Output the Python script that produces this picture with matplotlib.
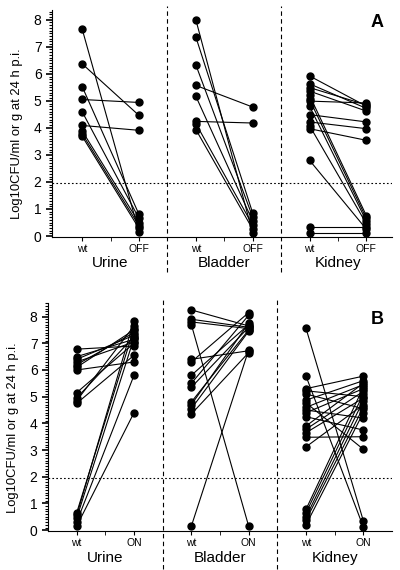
import matplotlib
matplotlib.use("Agg")
import matplotlib.pyplot as plt
from matplotlib.ticker import MultipleLocator
import matplotlib.transforms as mtransforms

plt.rcParams['font.family'] = ['Liberation Sans', 'DejaVu Sans']

grupos = ['Urine', 'Bladder', 'Kidney']

# Painel A: wt -> OFF
urina_wt_a = [7.66, 6.37, 5.53, 5.05, 4.60, 4.09, 3.89, 3.78, 3.69]
urina_off_a = [0.15, 4.46, 0.80, 4.94, 0.65, 3.91, 0.50, 0.38, 0.28]
bexiga_wt_a = [8.00, 7.36, 6.33, 5.57, 5.17, 4.24, 4.16, 3.94]
bexiga_off_a = [0.10, 0.85, 0.70, 4.77, 0.55, 4.18, 0.40, 0.25]
rim_wt_a = [5.92, 5.63, 5.49, 5.36, 4.99, 4.49, 4.22, 3.97,
            5.20, 5.05, 4.80, 4.08, 2.80, 0.35, 0.12]
rim_off_a = [4.80, 4.72, 4.85, 4.62, 4.92, 4.22, 3.97, 3.54,
             0.75, 0.65, 0.55, 0.45, 0.25, 0.35, 0.12]

# Painel B: wt -> ON
urina_wt_b = [6.78, 6.50, 6.40, 6.30, 6.20, 6.10, 6.00, 5.15, 4.95, 4.85, 4.75,
              0.65, 0.55, 0.45, 0.30, 0.15]
urina_on_b = [6.90, 7.15, 7.30, 7.05, 7.40, 7.50, 6.30, 7.00, 7.25, 7.65, 6.55,
              7.55, 7.85, 7.20, 5.80, 4.40]
bexiga_wt_b = [8.25, 7.90, 7.80, 7.70, 6.40, 6.30, 5.80, 5.50, 5.35, 4.80, 4.70,
               4.55, 4.35, 0.15]
bexiga_on_b = [7.65, 7.60, 7.55, 0.15, 6.72, 8.15, 7.70, 8.05, 7.60, 7.50, 7.75,
               7.45, 6.65, 6.75]
rim_wt_b = [7.56, 5.77, 5.30, 5.22, 5.10, 4.87, 4.77, 4.60, 4.50, 4.40, 4.25,
            3.90, 3.78, 3.65, 3.48, 3.12, 0.78, 0.65, 0.50, 0.38, 0.20]
rim_on_b = [0.35, 0.12, 5.77, 5.00, 4.55, 5.60, 3.03, 5.45, 4.20, 5.30, 3.75,
            5.50, 5.20, 4.95, 3.50, 4.70, 5.35, 5.10, 4.85, 4.60, 4.40]

limiar = 1.95


def painel(fig, pos, xlim, ylim, pares, rotulo_off, letra, pos_letra, y_topo, y_base):
    ax = fig.add_axes(pos)
    for g, (wt, off) in enumerate(pares):
        x0, x1 = 2 * g, 2 * g + 1
        for a, b in zip(wt, off):
            ax.plot([x0, x1], [a, b], color='black', lw=0.8,
                    marker='o', ms=5, mfc='black', mec='black', clip_on=False)
    ax.set_xlim(*xlim)
    ax.set_ylim(*ylim)
    ax.axhline(limiar, color='black', lw=0.8, ls=(0, (1.5, 2)))

    trans = mtransforms.blended_transform_factory(ax.transData, ax.transAxes)
    for xd in [1.5, 3.5]:
        ax.plot([xd, xd], [y_base, y_topo], transform=trans, color='black',
                lw=0.8, ls=(0, (4, 3)), clip_on=False)

    ax.spines['top'].set_visible(False)
    ax.spines['right'].set_visible(False)
    ax.yaxis.set_major_locator(MultipleLocator(1))
    ax.yaxis.set_minor_locator(MultipleLocator(0.1))
    ax.set_xticks(range(6))
    ax.set_xticklabels(['wt', rotulo_off] * 3, fontsize=7.5)
    ax.set_xticks([0.5, 2.5, 4.5], minor=True)
    ax.tick_params(axis='y', labelsize=10, length=4, width=1.2)
    ax.tick_params(axis='y', which='minor', length=2, width=0.8)
    ax.tick_params(axis='x', which='both', length=3, pad=2)
    ax.set_ylabel('Log10CFU/ml or g at 24 h p.i.', fontsize=9.4)
    ax.yaxis.set_label_coords(-0.085, 0.455)

    for g, nome in enumerate(grupos):
        ax.text(2 * g + 0.5, -0.085, nome, transform=trans, ha='center',
                va='top', fontsize=11)
    fig.text(pos_letra[0], pos_letra[1], letra, fontsize=13,
             fontweight='bold', ha='center', va='center')
    return ax


fig = plt.figure(figsize=(4, 5.7), dpi=100)

painel(fig, [0.13, 0.584, 0.85, 0.398], (-0.53, 5.45), (-0.04, 8.35),
       [(urina_wt_a, urina_off_a), (bexiga_wt_a, bexiga_off_a),
        (rim_wt_a, rim_off_a)],
       'OFF', 'A', (0.943, 0.961), 1.02, -0.155)

painel(fig, [0.12, 0.068, 0.86, 0.4], (-0.5, 5.5), (-0.04, 8.5),
       [(urina_wt_b, urina_on_b), (bexiga_wt_b, bexiga_on_b),
        (rim_wt_b, rim_on_b)],
       'ON', 'B', (0.943, 0.439), 1.013, -0.165)

plt.savefig('out.png', dpi=100)
plt.close()
